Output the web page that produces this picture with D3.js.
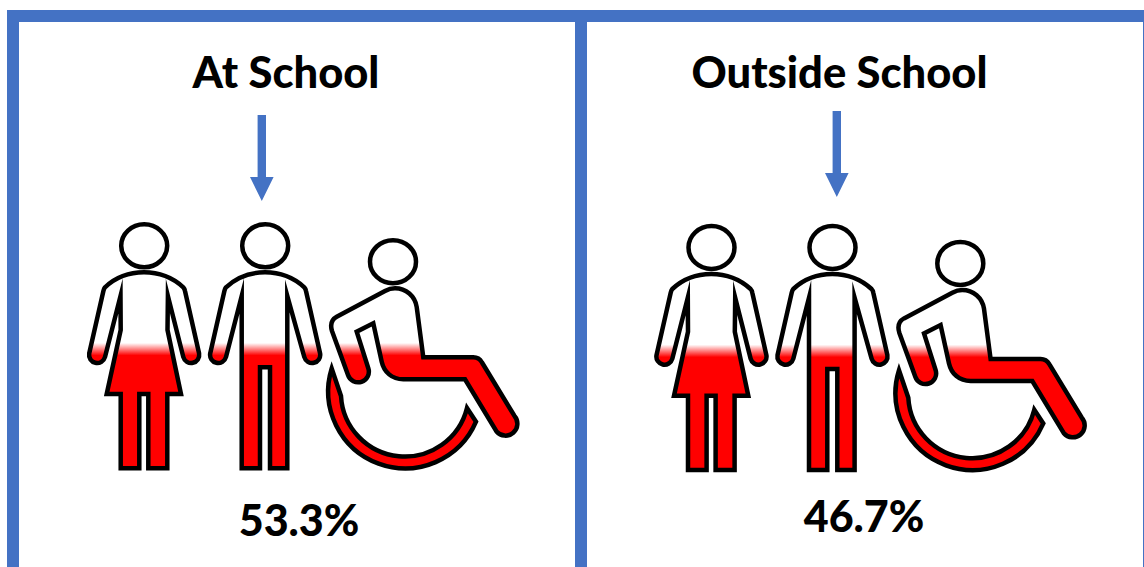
<!DOCTYPE html>
<html>
<head>
<meta charset="utf-8">
<script src="https://cdn.jsdelivr.net/npm/d3@7"></script>
<style>
  html, body { margin: 0; padding: 0; background: #fff; overflow: hidden; }
  svg { display: block; }
  text { font-family: Lato, "Open Sans", sans-serif; font-weight: 900; fill: #000; }
</style>
</head>
<body>
<div id="chart"></div>
<script>
// ----------------------
// Data
// ----------------------
const places = ["At School", "Outside School"];
const shares = ["53.3%", "46.7%"];
// how high the red reaches on the figures, in % of figure height
const fillLevels = [49, 49];

// ----------------------
// Setup
// ----------------------
const width = 1144, height = 567;
const blue = "#4472C4";
const red = "#FF0000";

const svg = d3.select("#chart").append("svg")
    .attr("width", width)
    .attr("height", height);

const defs = svg.append("defs");

// figure height -> page y, the right panel is the same drawing moved by panelX/panelY
const levelY = d3.scaleLinear().domain([0, 100]).range([470, 224]);
const panelX = [0, 567.3];
const panelY = [0, 1.7];

// pictogram outlines
const womanPath = "M105,287.3 C116,277 130,272.3 144,272.3 C158,272.3 172,277 183.3,287.3 Q184.5,288.5 185,291 " +
    "L199.1,353.5 A8.1,8.1 0 0 1 183.3,357 L167.9,296 L167.5,330 L181,394 H167.3 V468.3 H148.3 V394 H139.3 V468.3 H120.7 V394 H106.7 " +
    "L120.7,330 L120.5,296 L105,357 A8.1,8.1 0 0 1 89.2,353.5 L103.4,291 Q104,288.5 105,287.3 Z";
const manPath = "M226,287.3 C237,277 251,272.3 265,272.3 C279,272.3 293,277 304.3,287.3 Q305.5,288.5 306,291 " +
    "L320.1,353.5 A8.1,8.1 0 0 1 304.3,357 L287.3,296 V468.3 H270 V367.3 H260 V468.3 H241.7 V296 " +
    "L226,357 A8.1,8.1 0 0 1 210.2,353.5 L224.4,291 Q225,288.5 226,287.3 Z";
const riderPath = "M336.7,316.7 L385,291 Q390,288.3 395,288.3 C406,288.3 415,296 416.7,307 L423.3,357.3 H473.3 " +
    "Q479,357.3 482,362.5 L514.5,416 A9.5,9.5 0 0 1 496.5,431.5 L465,379.3 H403.3 C392,379.3 384,372 381.7,361.7 " +
    "L373.3,323.3 L356.7,331.7 L368.3,368.3 A10.5,10.5 0 0 1 348,375 L332,331 Q329,321 336.7,316.7 Z";
const wheelPath = "M331.7,368.5 A77,77 0 0 0 476,421.7 L467,408 A64,64 0 0 1 341,396 Z";

const heads = [[144.2, 245.8], [265.2, 245.8], [393, 261.7]];

// ----------------------
// Frame
// ----------------------
const frame = [
    [7, 10, 1137, 12],
    [7, 10, 12, 557],
    [575, 10, 12, 557],
    [1143, 22, 1, 545]
];
svg.selectAll("rect.frame")
    .data(frame)
    .join("rect")
    .attr("class", "frame")
    .attr("x", d => d[0])
    .attr("y", d => d[1])
    .attr("width", d => d[2])
    .attr("height", d => d[3])
    .attr("fill", blue);

// ----------------------
// Panels
// ----------------------
const titleX = [286, 839.5];
const titleY = [88, 88];
const shareX = [299, 864];
const shareY = [536, 532.3];
const arrowX = [261.8, 836.8];
const arrowY = [115, 111];

places.forEach((place, i) => {
    // red rises from the feet, soft edge at the level
    const y = levelY(fillLevels[i]);
    const grad = defs.append("linearGradient")
        .attr("id", `fill${i}`)
        .attr("gradientUnits", "userSpaceOnUse")
        .attr("x1", 0).attr("x2", 0)
        .attr("y1", y - 6.5).attr("y2", y + 6);
    grad.append("stop").attr("offset", 0).attr("stop-color", "#fff");
    grad.append("stop").attr("offset", 1).attr("stop-color", red);

    svg.append("text")
        .attr("x", titleX[i])
        .attr("y", titleY[i])
        .attr("text-anchor", "middle")
        .attr("font-size", 43.5)
        .text(place);

    // arrow
    const ax = arrowX[i], ay = arrowY[i];
    svg.append("path")
        .attr("d", `M${ax - 4.2},${ay} H${ax + 4.2} V${ay + 62} H${ax + 11.8} L${ax},${ay + 86} L${ax - 11.8},${ay + 62} H${ax - 4.2} Z`)
        .attr("fill", blue);

    const figures = svg.append("g")
        .attr("transform", `translate(${panelX[i]},${panelY[i]})`)
        .attr("stroke", "#000")
        .attr("stroke-width", 4.5)
        .attr("stroke-miterlimit", 10);

    figures.selectAll("path")
        .data([womanPath, manPath, riderPath])
        .join("path")
        .attr("d", d => d)
        .attr("fill", `url(#fill${i})`);

    figures.append("path")
        .attr("d", wheelPath)
        .attr("fill", red);

    figures.selectAll("ellipse")
        .data(heads)
        .join("ellipse")
        .attr("cx", d => d[0])
        .attr("cy", d => d[1])
        .attr("rx", 23)
        .attr("ry", 21.5)
        .attr("fill", "#fff");

    svg.append("text")
        .attr("x", shareX[i])
        .attr("y", shareY[i])
        .attr("text-anchor", "middle")
        .attr("font-size", 43)
        .text(shares[i]);
});
</script>
</body>
</html>
